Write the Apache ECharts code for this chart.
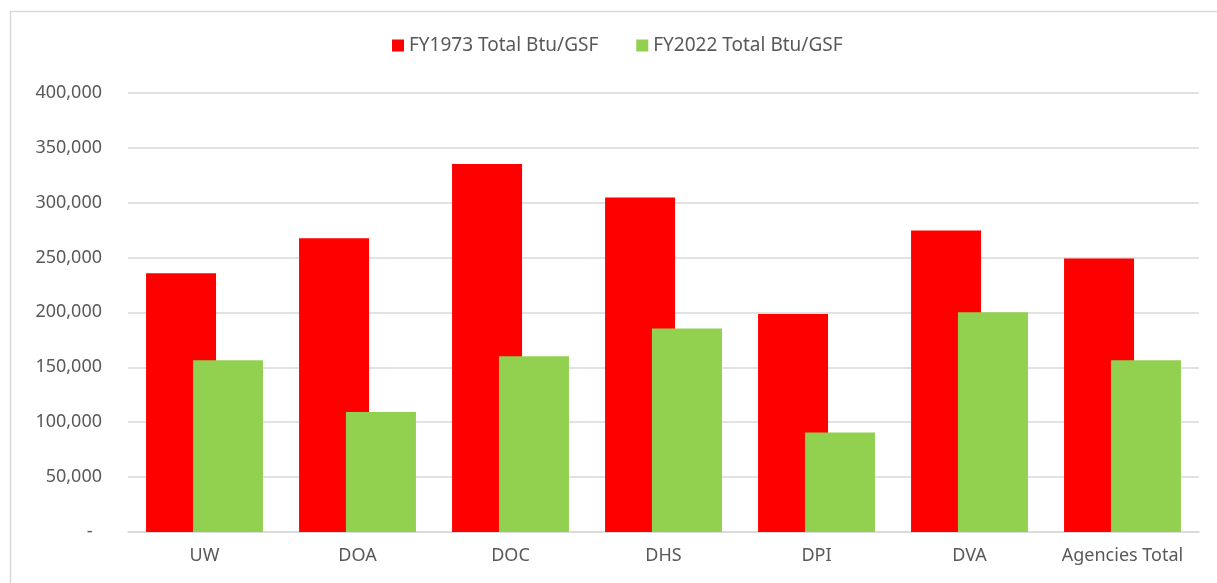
<!DOCTYPE html>
<html>
<head>
<meta charset="utf-8">
<script src="https://cdn.jsdelivr.net/npm/echarts@6/dist/echarts.min.js"></script>
<style>
  html, body { margin: 0; padding: 0; background: #ffffff; }
  #chart { width: 1217px; height: 583px; }
</style>
</head>
<body>
<div id="chart"></div>
<script>
// Agencies compared on total Btu per gross square foot
const categories = ['UW', 'DOA', 'DOC', 'DHS', 'DPI', 'DVA', 'Agencies Total'];
const fy1973 = [235600, 267500, 335000, 304600, 198600, 274600, 249000];
const fy2022 = [156300, 109200, 160000, 185200, 90700, 200100, 156300];
const seriesNames = ['FY1973 Total Btu/GSF', 'FY2022 Total Btu/GSF'];

const textColor = '#595959';
const gridColor = '#d9d9d9';
const fontFamily = '"Noto Sans", "Open Sans", sans-serif';

const chart = echarts.init(document.getElementById('chart'), null, { renderer: 'canvas' });

chart.setOption({
  animation: false,
  backgroundColor: '#ffffff',
  textStyle: { fontFamily: fontFamily },
  graphic: [{
    type: 'rect',
    left: 8,
    top: 9,
    shape: { x: 0, y: 0, width: 1400, height: 800 },
    style: { fill: 'none', stroke: gridColor, lineWidth: 1.5 },
    silent: true,
    z: -10
  }],
  legend: {
    left: 392,
    top: 36,
    padding: 0,
    itemWidth: 12,
    itemHeight: 12,
    itemGap: 38,
    icon: 'rect',
    textStyle: { color: textColor, fontSize: 19, fontFamily: fontFamily },
    data: seriesNames
  },
  grid: {
    left: 128,
    right: 18,
    top: 92.7,
    bottom: 51,
    containLabel: false
  },
  xAxis: {
    type: 'category',
    data: categories,
    axisLine: { show: true, lineStyle: { color: gridColor, width: 1.5 } },
    axisTick: { show: false },
    axisLabel: {
      color: textColor,
      fontSize: 18,
      fontFamily: fontFamily,
      margin: 15,
      interval: 0
    }
  },
  yAxis: {
    type: 'value',
    min: 0,
    max: 400000,
    interval: 50000,
    axisLine: { show: false },
    axisTick: { show: false },
    splitLine: { lineStyle: { color: gridColor, width: 1.5 } },
    axisLabel: {
      color: textColor,
      fontSize: 18,
      fontFamily: fontFamily,
      margin: 26,
      formatter: function (v) {
        return v === 0 ? '-  ' : v.toLocaleString('en-US');
      }
    }
  },
  series: [
    {
      name: seriesNames[0],
      type: 'bar',
      data: fy1973,
      barWidth: 70,
      barGap: '-33%',
      itemStyle: { color: '#ff0000' }
    },
    {
      name: seriesNames[1],
      type: 'bar',
      data: fy2022,
      barWidth: 70,
      barGap: '-33%',
      itemStyle: { color: '#92d050' }
    }
  ]
});
</script>
</body>
</html>
